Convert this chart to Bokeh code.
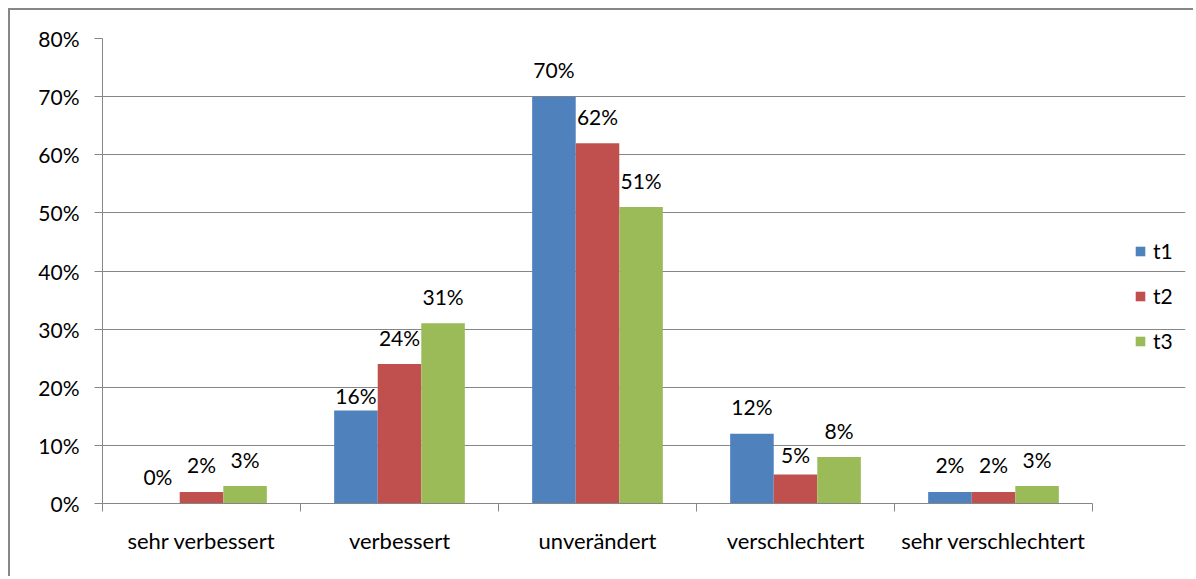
from bokeh.plotting import figure
from bokeh.models import (ColumnDataSource, Range1d, FixedTicker, Legend, LegendItem)
from bokeh.transform import dodge
from bokeh.core.properties import value
from bokeh.embed import file_html
from bokeh.resources import INLINE

categories = ["sehr verbessert", "verbessert", "unverändert", "verschlechtert", "sehr verschlechtert"]
series_names = ["t1", "t2", "t3"]
t1 = [0, 16, 70, 12, 2]
t2 = [2, 24, 62, 5, 2]
t3 = [3, 31, 51, 8, 3]
colors = ["#4F81BD", "#C0504D", "#9BBB59"]
y_ticks = [0, 10, 20, 30, 40, 50, 60, 70, 80]

FONT = "Lato"
GRID = "#868686"

# layout (pixels)
W, H = 1185, 568
LEFT, TOP, BOTTOM, RIGHT = 92, 28, 75, 10
CAT_AREA = 990          # width in px of the category slots
frame_w = W - LEFT - RIGHT
n = len(categories)
x_end = n * frame_w / CAT_AREA   # extra room on the right for the legend

# data-label placement: default lift above bar, plus a few labels set lower in the original
LABEL_LIFT = -27
label_nudge = {("t1", "verbessert"): 12, ("t2", "verschlechtert"): 7}

centers = [i + 0.5 for i in range(n)]
bounds = [float(i) for i in range(n + 1)]

data = dict(xc=centers, cat=categories, t1=t1, t2=t2, t3=t3)
for s in series_names:
    data["lab_" + s] = [f"{v}%" for v in data[s]]
    data["off_" + s] = [LABEL_LIFT + label_nudge.get((s, c), 0) for c in categories]
src = ColumnDataSource(data)

p = figure(width=W, height=H, output_backend="svg", toolbar_location=None,
           x_range=Range1d(0, x_end), y_range=Range1d(0, 80),
           min_border_left=LEFT, min_border_right=RIGHT, min_border_top=TOP,
           min_border_bottom=BOTTOM, outline_line_color=None)
p.margin = (8, 0, 0, 8)
p.styles = {"border-left": "2px solid #878787", "border-top": "2px solid #878787"}

w = 0.22
offsets = [-w, 0, w]
renderers = []
for name, off, col in zip(series_names, offsets, colors):
    r = p.vbar(x=dodge("xc", off), top=name, width=w, bottom=0,
               source=src, fill_color=col, line_color=None)
    renderers.append(r)
    p.text(x=dodge("xc", off), y=name, text="lab_" + name, source=src,
           text_font=value(FONT), text_font_size="21px", text_color="#000000",
           text_align="center", text_baseline="alphabetic", y_offset="off_" + name)

# y axis
ya = p.yaxis[0]
ya.ticker = FixedTicker(ticks=y_ticks)
ya.major_label_overrides = {t: f"{t}%" for t in y_ticks}
ya.axis_line_color = GRID
ya.major_tick_line_color = GRID
ya.major_tick_out = 8
ya.major_tick_in = 0
ya.minor_tick_line_color = None
ya.major_label_standoff = 15
ya.major_label_text_font = FONT
ya.major_label_text_font_size = "21px"
ya.major_label_text_color = "#000000"

p.ygrid.grid_line_color = GRID
p.ygrid.ticker = FixedTicker(ticks=y_ticks)
p.ygrid.bounds = (0, n)
p.xgrid.grid_line_color = None

# x axis: ticks at category boundaries, labels at centres
xa = p.xaxis[0]
xa.bounds = (0, n)
xa.ticker = FixedTicker(ticks=centers, minor_ticks=bounds)
xa.major_label_overrides = {c: name for c, name in zip(centers, categories)}
xa.axis_line_color = GRID
xa.major_tick_line_color = None
xa.major_tick_out = 0
xa.major_tick_in = 0
xa.minor_tick_line_color = GRID
xa.minor_tick_out = 8
xa.minor_tick_in = 0
xa.major_label_standoff = 15
xa.major_label_text_font = FONT
xa.major_label_text_font_size = "22px"
xa.major_label_text_color = "#000000"

legend = Legend(items=[LegendItem(label=s, renderers=[r]) for s, r in zip(series_names, renderers)],
                location=(1032, 150), orientation="vertical",
                glyph_width=12, glyph_height=12, label_height=20, spacing=20,
                label_standoff=7, padding=0, margin=0, border_line_color=None,
                background_fill_alpha=0,
                label_text_font=FONT, label_text_font_size="21px", label_text_color="#000000")
p.add_layout(legend, "center")

open("out.html", "w").write(file_html(p, INLINE))
